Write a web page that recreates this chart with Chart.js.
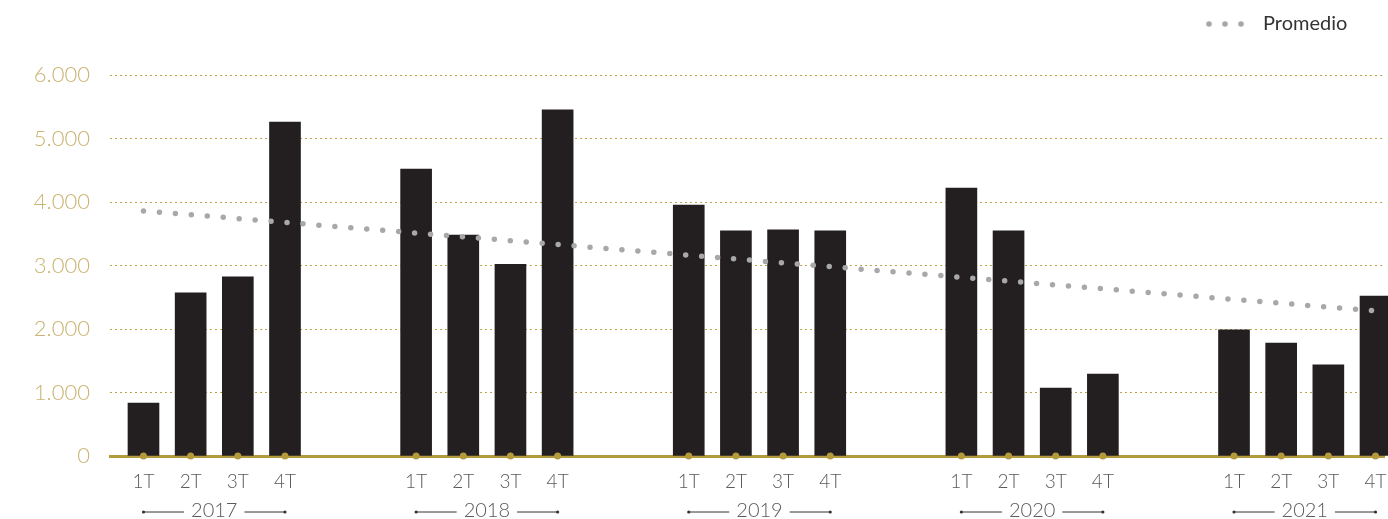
<!DOCTYPE html>
<html>
<head>
<meta charset="utf-8">
<script src="https://cdn.jsdelivr.net/npm/chart.js@4.4.1/dist/chart.umd.min.js"></script>
<style>
  html, body { margin: 0; padding: 0; background: #fff; }
  #wrap { width: 1388px; height: 519px; position: relative; }
</style>
</head>
<body>
<div id="wrap"><canvas id="quarterChart"></canvas></div>
<script>
// ---- datos ----
const years = ['2017', '2018', '2019', '2020', '2021'];
const quarters = ['1T', '2T', '3T', '4T'];
const values = [
  835, 2570, 2820, 5260,
  4520, 3480, 3020, 5450,
  3950, 3545, 3560, 3545,
  4220, 3545, 1070, 1290,
  1985, 1780, 1435, 2520
];
const promedio = [3860, 2285]; // inicio y fin de la línea de promedio
const yTicks = [0, 1000, 2000, 3000, 4000, 5000, 6000];

// separación entre años, en unidades de trimestre
const GROUP_STEP = 5.78;
const positions = [];
years.forEach((y, g) => quarters.forEach((q, i) => positions.push(g * GROUP_STEP + i)));

const GOLD = '#b39a3c';
const GOLD_LIGHT = '#c9b36e';
const GRID_GOLD = '#bfa24e';
const GREY_TEXT = '#5a5a5c';
const FONT = 'Lato, "Open Sans", sans-serif';

// años debajo de los trimestres: —— 2017 ——
const yearLabels = {
  id: 'yearLabels',
  afterDraw(chart) {
    const ctx = chart.ctx;
    const x = chart.scales.x;
    const yPos = 511;
    ctx.save();
    ctx.font = '300 20px ' + FONT;
    ctx.fillStyle = GREY_TEXT;
    ctx.strokeStyle = '#333';
    ctx.lineWidth = 1;
    ctx.textAlign = 'center';
    ctx.textBaseline = 'middle';
    years.forEach((yr, g) => {
      const x0 = x.getPixelForValue(positions[g * 4]);
      const x1 = x.getPixelForValue(positions[g * 4 + 3]);
      const cx = (x0 + x1) / 2;
      const half = ctx.measureText(yr).width / 2;
      ctx.fillText(yr, cx, yPos);
      ctx.beginPath();
      ctx.moveTo(x0, yPos + 1);
      ctx.lineTo(cx - half - 7, yPos + 1);
      ctx.moveTo(cx + half + 7, yPos + 1);
      ctx.lineTo(x1, yPos + 1);
      ctx.stroke();
      ctx.fillStyle = '#333';
      [x0, x1].forEach(px => {
        ctx.beginPath();
        ctx.arc(px, yPos + 1, 1.6, 0, Math.PI * 2);
        ctx.fill();
      });
      ctx.fillStyle = GREY_TEXT;
    });
    ctx.restore();
  }
};

// leyenda del promedio arriba a la derecha
const promedioLegend = {
  id: 'promedioLegend',
  afterDraw(chart) {
    const ds = chart.data.datasets[0];
    const ctx = chart.ctx;
    const yPos = 24;
    ctx.save();
    ctx.fillStyle = ds.borderColor;
    [1209, 1225, 1241].forEach(px => {
      ctx.beginPath();
      ctx.arc(px, yPos, 2.8, 0, Math.PI * 2);
      ctx.fill();
    });
    ctx.font = '20px ' + FONT;
    ctx.fillStyle = '#333';
    ctx.textAlign = 'left';
    ctx.textBaseline = 'middle';
    ctx.fillText(ds.label, 1263, yPos);
    ctx.restore();
  }
};

const ctx = document.getElementById('quarterChart').getContext('2d');
new Chart(ctx, {
  type: 'bar',
  data: {
    datasets: [
      {
        type: 'line',
        label: 'Promedio',
        data: [
          { x: positions[0], y: promedio[0] },
          { x: positions[positions.length - 1], y: promedio[1] }
        ],
        borderColor: '#a7a8aa',
        borderWidth: 5.5,
        borderDash: [0, 16],
        borderCapStyle: 'round',
        pointRadius: 0,
        fill: false,
        order: 0
      },
      {
        type: 'line',
        label: 'marcas',
        data: positions.map(p => ({ x: p, y: 0 })),
        showLine: false,
        pointRadius: 3.5,
        pointBorderWidth: 0,
        pointBackgroundColor: GOLD,
        clip: false,
        order: 1
      },
      {
        label: 'Valor',
        data: values.map((v, i) => ({ x: positions[i], y: v })),
        backgroundColor: '#231f20',
        barThickness: 31,
        clip: false,
        order: 2
      }
    ]
  },
  options: {
    responsive: true,
    maintainAspectRatio: false,
    animation: false,
    layout: { padding: { top: 75, left: 0, right: 0, bottom: 0 } },
    plugins: {
      legend: { display: false },
      tooltip: { enabled: false }
    },
    scales: {
      x: {
        type: 'linear',
        offset: false,
        min: -0.71,
        max: 26.30,
        grid: { display: false, drawTicks: false, offset: false },
        border: { display: true, color: GOLD, width: 3 },
        afterBuildTicks: scale => { scale.ticks = positions.map(v => ({ value: v })); },
        afterFit: scale => {
          scale.height = 63;
          scale.paddingLeft = 0;
          scale.paddingRight = 0;
        },
        ticks: {
          autoSkip: false,
          maxRotation: 0,
          padding: 14,
          color: GREY_TEXT,
          font: { family: FONT, size: 19, weight: 300 },
          callback: (v, i) => quarters[i % 4]
        }
      },
      y: {
        min: 0,
        max: 6000,
        afterBuildTicks: scale => { scale.ticks = yTicks.map(v => ({ value: v })); },
        afterFit: scale => { scale.width = 110; },
        grid: {
          color: GRID_GOLD,
          lineWidth: 1,
          drawTicks: false
        },
        border: { display: false, dash: [2, 3] },
        ticks: {
          padding: 20,
          color: GOLD_LIGHT,
          font: { family: FONT, size: 22, weight: 300 },
          callback: v => v.toString().replace(/\B(?=(\d{3})+(?!\d))/g, '.')
        }
      }
    }
  },
  plugins: [yearLabels, promedioLegend]
});
</script>
</body>
</html>
